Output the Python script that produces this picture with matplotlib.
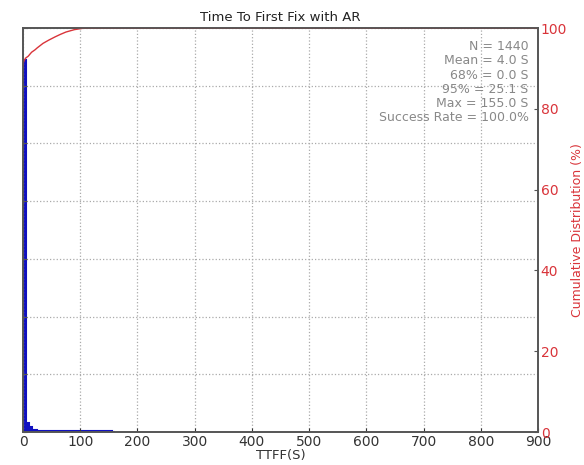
import matplotlib.pyplot as plt
import numpy as np

# histogram of TTFF (5 s bins)
bin_edges = np.arange(0, 165, 5)
counts = [1290, 30, 16, 8, 6, 4, 4, 4, 3, 3, 3, 3, 3, 3, 3, 3,
          3, 3, 3, 3, 3, 3, 3, 3, 3, 3, 3, 3, 3, 3, 3, 0]

# cumulative distribution
cdf_x = [0, 0.5, 2, 5, 9, 15, 21, 25, 35, 45, 56, 65, 75, 90, 105, 155, 900]
cdf_y = [90.5, 91.3, 92, 92.6, 93, 94, 94.6, 95.1, 96.2, 97, 97.8, 98.4, 99, 99.6, 99.93, 100, 100]

stats = ["N = 1440", "Mean = 4.0 S", "68% = 0.0 S", "95% = 25.1 S",
         "Max = 155.0 S", "Success Rate = 100.0%"]

red = '#d9343a'
blue = '#1010c0'
fig = plt.figure(figsize=(5.84, 4.65), dpi=100)
ax = fig.add_axes([23 / 584, 33 / 465, 515 / 584, 404 / 465])

ax.stairs(counts, bin_edges, fill=True, color=blue)
ax.stairs(counts, bin_edges, color=blue, linewidth=1.5)
ax.set_xlim(0, 900)
ax.set_ylim(0, 1400)
ax.set_xticks(np.arange(0, 1000, 100))
ax.set_yticks(np.arange(0, 1600, 200))
ax.tick_params(axis='y', labelleft=False, direction='in', length=3, color='#555555')
ax.tick_params(axis='x', direction='in', length=3, labelsize=10, colors='#333333', pad=2)
ax.grid(True, linestyle=':', color='#aaaaaa', linewidth=0.9)
ax.set_xlabel('TTFF(S)', fontsize=9.5, color='#333333', labelpad=0)
ax.set_title('Time To First Fix with AR', fontsize=9.5, color='#222222', pad=5)
for s in ax.spines.values():
    s.set_color('#555555')
    s.set_linewidth(1.2)

ax2 = ax.twinx()
ax2.plot(cdf_x, cdf_y, color=red, linewidth=1.0)
ax2.set_ylim(0, 100)
ax2.set_yticks(np.arange(0, 120, 20))
ax2.tick_params(axis='y', direction='in', length=3, labelsize=10, labelcolor=red,
                color='#555555', pad=2)
ax2.set_ylabel('Cumulative Distribution (%)', color=red, fontsize=9, labelpad=3)
for s in ax2.spines.values():
    s.set_color('#555555')
    s.set_linewidth(1.2)

ax2.text(0.982, 0.97, "\n".join(stats), transform=ax.transAxes, ha='right', va='top',
         fontsize=9, color='#888888', linespacing=1.12)

fig.savefig('out.png', dpi=100)
